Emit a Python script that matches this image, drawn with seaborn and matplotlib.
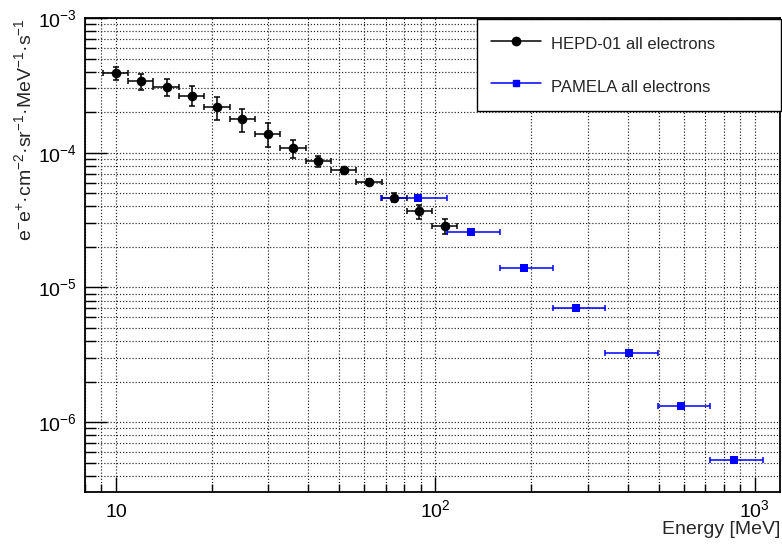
import numpy as np
import pandas as pd
import seaborn as sns
import matplotlib
matplotlib.use('Agg')
import matplotlib.pyplot as plt
from matplotlib.lines import Line2D
from matplotlib.ticker import LogLocator, NullFormatter, FuncFormatter

# HEPD-01 all electrons
hepd_energy = [10.0, 12.0, 14.4, 17.3, 20.7, 24.9, 29.9, 35.8, 43.0, 51.6, 61.9, 74.3, 89.2, 107.0]
hepd_flux = [3.9e-4, 3.4e-4, 3.07e-4, 2.66e-4, 2.18e-4, 1.78e-4, 1.38e-4, 1.08e-4,
             8.7e-5, 7.4e-5, 6.1e-5, 4.65e-5, 3.68e-5, 2.86e-5]
hepd_flux_err = [0.45e-4, 0.46e-4, 0.45e-4, 0.45e-4, 0.42e-4, 0.35e-4, 0.28e-4, 0.17e-4,
                 0.8e-5, 0.5e-5, 0.3e-5, 0.37e-5, 0.44e-5, 0.36e-5]
hepd_bin_edges = [9.1, 10.9, 13.1, 15.8, 18.9, 22.7, 27.3, 32.7, 39.3, 47.1, 56.6, 67.9, 81.5, 97.8, 117.0]

# PAMELA all electrons
pamela_energy = [88.0, 129.0, 189.0, 276.0, 405.0, 589.0, 863.0]
pamela_flux = [4.6e-5, 2.6e-5, 1.4e-5, 6.98e-6, 3.28e-6, 1.32e-6, 5.24e-7]
pamela_flux_err = [1.2e-6, 0.7e-6, 0.4e-6, 0.2e-6, 0.09e-6, 0.04e-6, 0.015e-6]
pamela_bin_edges = [67.5, 108.5, 159.5, 233.0, 341.0, 497.0, 726.0, 1064.0]

labels = ['HEPD-01 all electrons', 'PAMELA all electrons']

sns.set_theme(style='ticks')
plt.rcParams['font.family'] = ['Liberation Sans', 'DejaVu Sans']
plt.rcParams['mathtext.fontset'] = 'custom'
plt.rcParams['mathtext.rm'] = 'Liberation Sans'
plt.rcParams['mathtext.it'] = 'Liberation Sans'
plt.rcParams['mathtext.default'] = 'regular'

df = pd.concat([
    pd.DataFrame({'E': hepd_energy, 'flux': hepd_flux, 'set': labels[0]}),
    pd.DataFrame({'E': pamela_energy, 'flux': pamela_flux, 'set': labels[1]}),
])

fig = plt.figure(figsize=(7.82, 5.47), dpi=100)
ax = fig.add_axes([0.1087, 0.1005, 0.8887, 0.8665])

# error bars
for e, f, ferr, edges, col in [(hepd_energy, hepd_flux, hepd_flux_err, hepd_bin_edges, 'black'),
                               (pamela_energy, pamela_flux, pamela_flux_err, pamela_bin_edges, '#0000ff')]:
    e = np.array(e)
    edges = np.array(edges)
    xerr = [e - edges[:-1], edges[1:] - e]
    ax.errorbar(e, f, xerr=xerr, yerr=ferr, fmt='none', ecolor=col,
                elinewidth=1.1, capsize=2.3, capthick=1.1, zorder=3)

sns.scatterplot(data=df[df['set'] == labels[0]], x='E', y='flux', ax=ax, color='black',
                marker='o', s=48, linewidth=0, zorder=4, legend=False)
sns.scatterplot(data=df[df['set'] == labels[1]], x='E', y='flux', ax=ax, color='#0000ff',
                marker='s', s=30, linewidth=0, zorder=5, legend=False)

ax.set_xscale('log')
ax.set_yscale('log')
ax.set_xlim(8, 1200)
ax.set_ylim(3.03e-7, 1e-3)

ax.xaxis.set_major_locator(LogLocator(base=10, numticks=10))
ax.xaxis.set_minor_locator(LogLocator(base=10, subs=np.arange(2, 10), numticks=20))
ax.yaxis.set_major_locator(LogLocator(base=10, numticks=10))
ax.yaxis.set_minor_locator(LogLocator(base=10, subs=np.arange(2, 10), numticks=20))
ax.xaxis.set_minor_formatter(NullFormatter())
ax.yaxis.set_minor_formatter(NullFormatter())


def xfmt(v, pos):
    n = int(round(np.log10(v)))
    return '10' if n == 1 else r'$10^{%d}$' % n


ax.xaxis.set_major_formatter(FuncFormatter(xfmt))
ax.yaxis.set_major_formatter(FuncFormatter(lambda v, p: r'$10^{%d}$' % int(round(np.log10(v)))))

ax.grid(True, which='both', ls=':', color='#222222', lw=0.85)
ax.tick_params(which='both', direction='in', top=False, right=False, colors='black',
               labelsize=14)
ax.tick_params(axis='x', which='major', length=11, width=1, pad=18)
ax.tick_params(axis='x', which='minor', length=5.5, width=1)
ax.tick_params(axis='y', which='major', length=16, width=1, pad=6)
ax.tick_params(axis='y', which='minor', length=8, width=1)
for lbl in ax.get_xticklabels():
    lbl.set_verticalalignment('baseline')
for sp in ax.spines.values():
    sp.set_color('black')
    sp.set_linewidth(1.3)

ax.set_xlabel('Energy [MeV]', fontsize=14, loc='right', labelpad=0)
ax.set_ylabel('e$^{-}$e$^{+}$·cm$^{-2}$·sr$^{-1}$·MeV$^{-1}$·s$^{-1}$',
              fontsize=14, loc='top')
ax.yaxis.set_label_coords(-0.072, 1.0)

handles = [Line2D([], [], color='black', marker='o', markersize=6, lw=1.1),
           Line2D([], [], color='#0000ff', marker='s', markersize=4.5, lw=1.1)]
leg = fig.legend(handles, labels, loc='upper left',
                 bbox_to_anchor=(477 / 782, 1 - 19 / 547, 304 / 782, 0), mode='expand',
                 fontsize=12, frameon=True, fancybox=False, framealpha=1,
                 edgecolor='black', borderaxespad=0, borderpad=0.82, labelspacing=1.28,
                 handleheight=1.6, handlelength=3.0, handletextpad=0.6)
leg.get_frame().set_linewidth(1.0)

fig.savefig('out.png', dpi=100)
